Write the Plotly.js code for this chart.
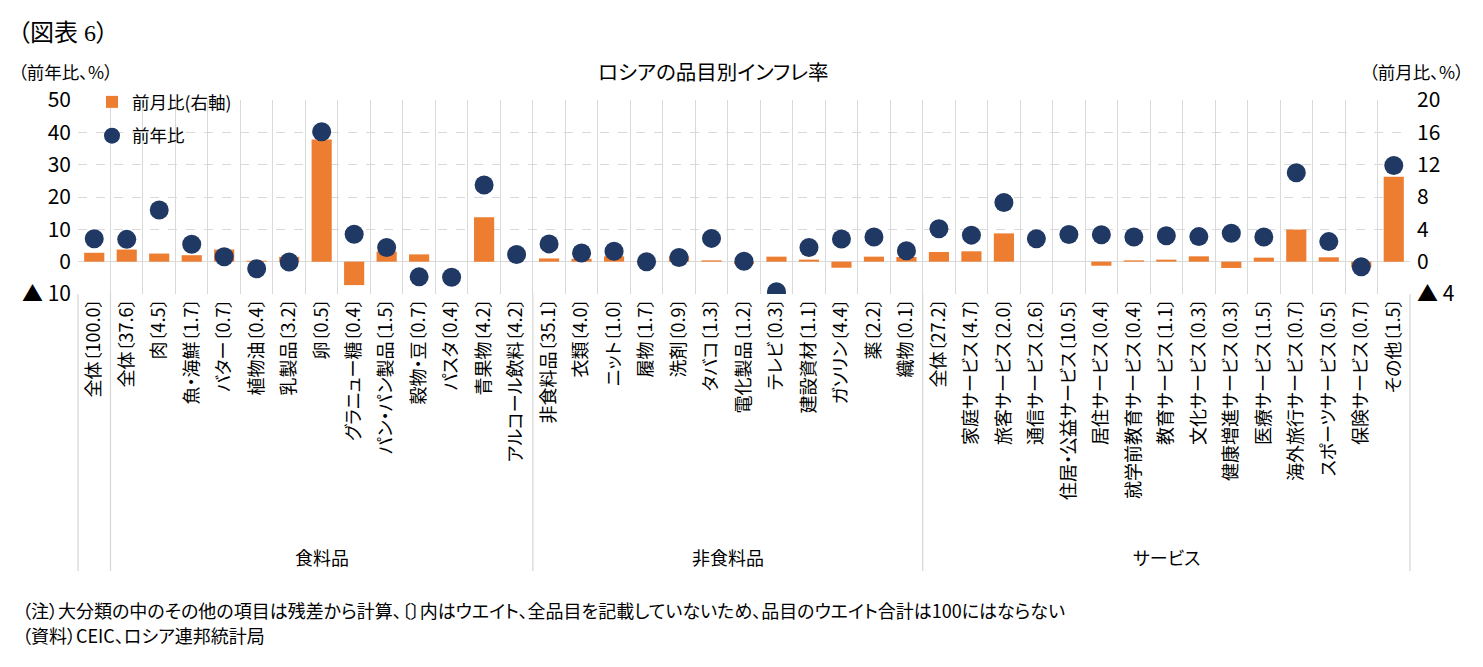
<!DOCTYPE html>
<html>
<head>
<meta charset="utf-8">
<script src="https://cdn.plot.ly/plotly-3.0.1.min.js"></script>
<style>
  body { margin: 0; background: #fff; }
  #chart { width: 1483px; height: 667px; }
  svg text { font-feature-settings: "palt" 1; }
</style>
</head>
<body>
<div id="chart"></div>
<script>
// categories (weight in brackets)
var items = [
  "全体〔100.0〕",
  "全体〔37.6〕", "肉〔4.5〕", "魚・海鮮〔1.7〕", "バター〔0.7〕", "植物油〔0.4〕", "乳製品〔3.2〕",
  "卵〔0.5〕", "グラニュー糖〔0.4〕", "パン・パン製品〔1.5〕", "穀物・豆〔0.7〕", "パスタ〔0.4〕",
  "青果物〔4.2〕", "アルコール飲料〔4.2〕",
  "非食料品〔35.1〕", "衣類〔4.0〕", "ニット〔1.0〕", "履物〔1.7〕", "洗剤〔0.9〕", "タバコ〔1.3〕",
  "電化製品〔1.2〕", "テレビ〔0.3〕", "建設資材〔1.1〕", "ガソリン〔4.4〕", "薬〔2.2〕", "織物〔0.1〕",
  "全体〔27.2〕", "家庭サービス〔4.7〕", "旅客サービス〔2.0〕", "通信サービス〔2.6〕",
  "住居・公益サービス〔10.5〕", "居住サービス〔0.4〕", "就学前教育サービス〔0.4〕", "教育サービス〔1.1〕",
  "文化サービス〔0.3〕", "健康増進サービス〔0.3〕", "医療サービス〔1.5〕", "海外旅行サービス〔0.7〕",
  "スポーツサービス〔0.5〕", "保険サービス〔0.7〕", "その他〔1.5〕"
];

// 前月比 (right axis, %)
var mom = [
  1.1,
  1.5, 1.0, 0.8, 1.5, 0.12, 0.6, 15.1, -2.9, 1.24, 0.9, 0, 5.5, 0,
  0.4, 0.36, 0.66, 0.1, 0.66, 0.16, -0.28, 0.62, 0.25, -0.75, 0.62, 0.58,
  1.2, 1.28, 3.5, 0, 0, -0.5, 0.16, 0.25, 0.66, -0.78, 0.5, 3.97, 0.54, -0.7, 10.5
];

// 前年比 (left axis, %)
var yoy = [
  7.1,
  6.9, 16.0, 5.4, 1.5, -2.2, -0.1, 40.2, 8.5, 4.4, -4.7, -4.8, 23.7, 2.2,
  5.5, 2.7, 3.2, 0.0, 1.3, 7.2, 0.1, -9.3, 4.4, 7.0, 7.6, 3.4,
  10.2, 8.2, 18.3, 7.1, 8.4, 8.3, 7.6, 8.0, 7.75, 8.8, 7.6, 27.5, 6.2, -1.55, 29.75
];

// groups: name, first index, last index
var groups = [
  { name: "食料品", from: 1, to: 13 },
  { name: "非食料品", from: 14, to: 25 },
  { name: "サービス", from: 26, to: 40 }
];

var leftTicks = [-10, 0, 10, 20, 30, 40, 50];
var leftText = ["▲ 10", "0", "10", "20", "30", "40", "50"];
var rightTicks = [-4, 0, 4, 8, 12, 16, 20];
var rightText = ["▲ 4", "0", "4", "8", "12", "16", "20"];

var FONT = "Noto Sans CJK JP, Noto Sans, sans-serif";

// plot box in pixels
var L = 78, R = 1410, T = 100, B = 294;
function px(x) { return (x - L) / (R - L); }
function py(y) { return (B - y) / (B - T); }

var n = items.length;

var barTrace = {
  type: 'bar',
  name: '前月比(右軸)',
  x: items,
  y: mom,
  yaxis: 'y',
  width: 0.62,
  marker: { color: '#ED7D31' },
  legendgroup: 'a',
  hoverinfo: 'x+y'
};

var dotTrace = {
  type: 'scatter',
  mode: 'markers',
  name: '前年比',
  x: items,
  y: yoy,
  yaxis: 'y2',
  marker: { color: '#1F3864', size: 19 },
  legendgroup: 'b',
  hoverinfo: 'x+y'
};

var shapes = [];
var sepIdx = [0, 1, 14, 26, n];
sepIdx.forEach(function (i) {
  shapes.push({
    type: 'line', xref: 'paper', yref: 'paper',
    x0: i / n, x1: i / n, y0: 0, y1: py(571),
    line: { color: '#d9d9d9', width: 1.3 }
  });
});

var annotations = [
  { text: 'ロシアの品目別インフレ率', x: px(713), y: py(71), font: { size: 20.5 } , xanchor: 'center' },
  { text: '（前年比、%）', x: px(16), y: py(71), font: { size: 17.5 }, xanchor: 'left' },
  { text: '（前月比、%）', x: px(1466), y: py(71), font: { size: 17.5 }, xanchor: 'right' },
  { text: '（図表 6）', x: px(16), y: py(33), font: { size: 24, family: 'Liberation Serif, Noto Sans CJK JP, serif' }, xanchor: 'left' },
  { text: '（注）大分類の中のその他の項目は残差から計算、〔〕内はウエイト、全品目を記載していないため、品目のウエイト合計は100にはならない',
    x: px(20), y: py(610), font: { size: 18 }, xanchor: 'left' },
  { text: '（資料）CEIC、ロシア連邦統計局', x: px(20), y: py(635), font: { size: 18 }, xanchor: 'left' }
];
groups.forEach(function (g) {
  annotations.push({
    text: g.name,
    x: (g.from + g.to + 1) / 2 / n,
    y: py(557),
    font: { size: 18 },
    xanchor: 'center'
  });
});
annotations.forEach(function (a) {
  a.xref = 'paper'; a.yref = 'paper'; a.showarrow = false; a.yanchor = 'middle';
  a.font.color = '#000';
  if (!a.font.family) a.font.family = FONT;
});

var layout = {
  width: 1483,
  height: 667,
  margin: { l: L, r: 1483 - R, t: T, b: 667 - B },
  paper_bgcolor: '#fff',
  plot_bgcolor: '#fff',
  font: { family: FONT, color: '#000' },
  showlegend: true,
  legend: {
    x: px(92), y: py(84), xanchor: 'left', yanchor: 'top',
    bgcolor: 'rgba(0,0,0,0)',
    font: { size: 17.5, color: '#000' },
    tracegroupgap: 8,
    itemwidth: 30
  },
  xaxis: {
    type: 'category',
    tickson: 'boundaries',
    showgrid: true,
    gridcolor: '#d9d9d9',
    gridwidth: 1,
    ticks: '',
    tickangle: -90,
    tickfont: { size: 18, color: '#000' },
    showline: false,
    zeroline: false,
    fixedrange: true,
    range: [-0.5, n - 0.5]
  },
  yaxis: {
    side: 'right',
    range: [-4, 20],
    tickvals: rightTicks,
    ticktext: rightText,
    tickfont: { size: 21, color: '#000' },
    showgrid: true,
    gridcolor: '#d9d9d9',
    griddash: 'dash',
    zeroline: true,
    zerolinecolor: '#d9d9d9',
    zerolinewidth: 1.3,
    ticks: '',
    ticklabelstandoff: 6
  },
  yaxis2: {
    overlaying: 'y',
    side: 'left',
    range: [-10, 50],
    tickvals: leftTicks,
    ticktext: leftText,
    tickfont: { size: 21, color: '#000' },
    showgrid: false,
    zeroline: false,
    ticks: '',
    ticklabelstandoff: 6
  },
  shapes: shapes,
  annotations: annotations
};

Plotly.newPlot('chart', [barTrace, dotTrace], layout, { displayModeBar: false, staticPlot: true });
</script>
</body>
</html>
